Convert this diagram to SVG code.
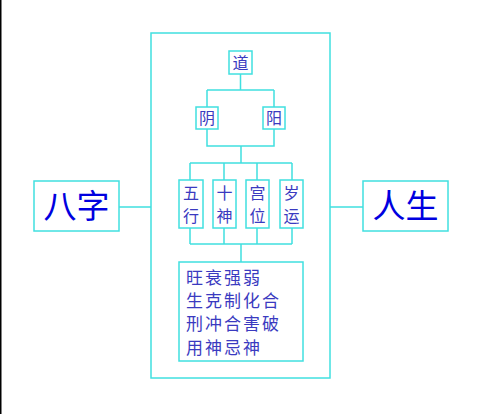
<svg xmlns="http://www.w3.org/2000/svg" width="481" height="414" viewBox="0 0 481 414">
<style>
.box{fill:#fff;stroke:#40e0e0;stroke-width:1.5}
.ln{fill:none;stroke:#40e0e0;stroke-width:1.5}
.s{font-family:"Noto Sans CJK SC",sans-serif;font-size:16px;fill:#3a3ac0;text-anchor:middle}
.b{font-family:"Noto Sans CJK SC",sans-serif;font-size:33px;fill:#0000e0;text-anchor:middle}
.t{font-family:"Noto Sans CJK SC",sans-serif;font-size:17px;fill:#3a3ac0;letter-spacing:2px}
</style>
<rect x="0" y="0" width="481" height="414" fill="#fff"/>
<rect x="0" y="0" width="1.5" height="414" fill="#000"/>
<g id="frame"><rect class="box" x="151" y="33" width="179" height="345"/></g>
<g id="connectors">
<path class="ln" d="M240.5 74V90M207 90H274M207 90V107M274 90V107"/>
<path class="ln" d="M207 129V146H274V129M241 146V163M190 163H292M190 163V180M224 163V180M257 163V180M292 163V180"/>
<path class="ln" d="M190 228V244M224 228V244M257 228V244M292 228V244M190 244H292M241 244V262"/>
<path class="ln" d="M119 207H151M330 207H363"/>
</g>
<g id="dao"><rect class="box" x="229" y="51" width="23" height="23"/><text class="s" x="240.5" y="68.5">道</text></g>
<g id="yin"><rect class="box" x="196" y="107" width="22" height="22"/><text class="s" x="207" y="124">阴</text></g>
<g id="yang"><rect class="box" x="263" y="107" width="22" height="22"/><text class="s" x="274" y="124">阳</text></g>
<g id="wuxing"><rect class="box" x="179" y="180" width="24" height="48"/><text class="s" x="191" y="199">五</text><text class="s" x="191" y="222">行</text></g>
<g id="shishen"><rect class="box" x="213" y="180" width="23" height="48"/><text class="s" x="224.5" y="199">十</text><text class="s" x="224.5" y="222">神</text></g>
<g id="gongwei"><rect class="box" x="246" y="180" width="23" height="48"/><text class="s" x="257.5" y="199">宫</text><text class="s" x="257.5" y="222">位</text></g>
<g id="suiyun"><rect class="box" x="280" y="180" width="23" height="48"/><text class="s" x="291.5" y="199">岁</text><text class="s" x="291.5" y="222">运</text></g>
<g id="detail"><rect class="box" x="179" y="262" width="124" height="99"/>
<text class="t" x="186" y="284">旺衰强弱</text>
<text class="t" x="186" y="307">生克制化合</text>
<text class="t" x="186" y="330">刑冲合害破</text>
<text class="t" x="186" y="354">用神忌神</text></g>
<g id="bazi"><rect class="box" x="34" y="181" width="85" height="50"/><text class="b" x="76.5" y="218">八字</text></g>
<g id="rensheng"><rect class="box" x="363" y="181" width="85" height="50"/><text class="b" x="405.5" y="218">人生</text></g>
</svg>
